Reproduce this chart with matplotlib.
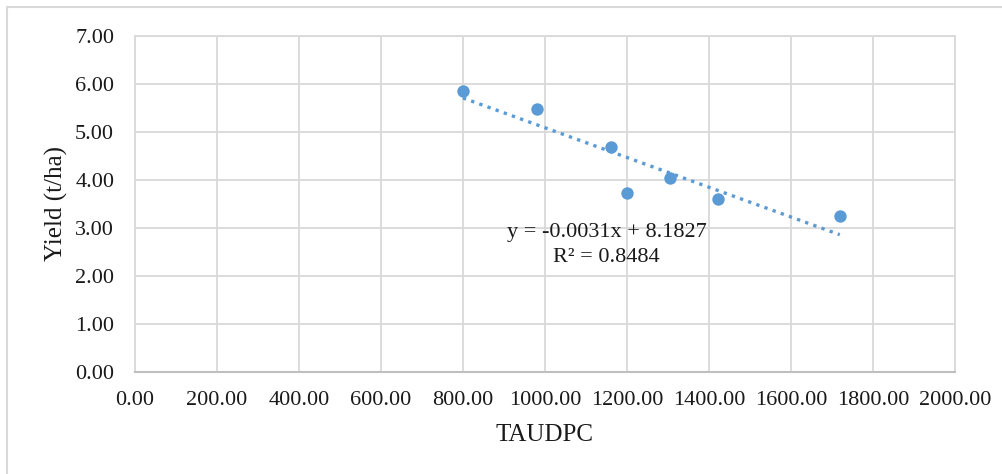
import numpy as np
import matplotlib
matplotlib.use('Agg')
from matplotlib import pyplot as plt
from matplotlib.patches import Rectangle

# Data
taudpc = [800, 980, 1162, 1201, 1304, 1422, 1719]
yield_tha = [5.85, 5.47, 4.68, 3.73, 4.04, 3.60, 3.25]

# Linear trendline as printed on the chart
slope = -0.0031
intercept = 8.1827
r_squared = 0.8484

x_ticks = np.arange(0, 2001, 200)
y_ticks = np.arange(0, 7.01, 1)

plt.rcParams['font.family'] = ['Liberation Serif', 'DejaVu Serif']

blue = '#5B9BD5'
grid_gray = '#D9D9D9'
text_col = '#1a1a1a'

fig = plt.figure(figsize=(10.03, 4.74), dpi=100)
fig.patch.set_facecolor('white')

# Chart-area border (only left and top show in the crop)
fig.patches.append(Rectangle((7 / 1003, -0.1), 1.2, 1 - 7 / 474 + 0.1,
                             transform=fig.transFigure, fill=False,
                             edgecolor='#D9D9D9', linewidth=1.5))

ax = fig.add_axes([135 / 1003, 1 - 371.7 / 474, (955 - 135) / 1003, (371.7 - 35.7) / 474])

ax.set_xlim(0, 2000)
ax.set_ylim(0, 7)
ax.set_xticks(x_ticks)
ax.set_yticks(y_ticks)
ax.set_xticklabels([f'{v:.2f}' for v in x_ticks])
ax.set_yticklabels([f'{v:.2f}' for v in y_ticks])
ax.tick_params(length=0, labelsize=16, colors=text_col)
ax.tick_params(axis='x', pad=14)
ax.tick_params(axis='y', pad=15)

ax.grid(True, color=grid_gray, linewidth=1.3)
ax.set_axisbelow(True)
for side in ['left', 'top', 'right']:
    ax.spines[side].set_color(grid_gray)
    ax.spines[side].set_linewidth(1.3)
ax.spines['bottom'].set_color('#BFBFBF')
ax.spines['bottom'].set_linewidth(1.5)

# Trendline over the range of the data
xs = np.array([min(taudpc), max(taudpc)])
ax.plot(xs, slope * xs + intercept, linestyle=(0, (1, 1.6)), color=blue,
        linewidth=2.4, zorder=2)

ax.scatter(taudpc, yield_tha, s=80, color=blue, zorder=3, linewidths=0)

ax.text(1150, 2.89, f'y = {slope}x + {intercept}', ha='center', va='center',
        fontsize=16, color=text_col)
ax.text(1150, 2.37, f'R² = {r_squared}', ha='center', va='center',
        fontsize=16, color=text_col)

ax.set_xlabel('TAUDPC', fontsize=18, color=text_col, labelpad=10)
ax.set_ylabel('Yield (t/ha)', fontsize=18, color=text_col, labelpad=5)

plt.savefig('out.png', dpi=100)
